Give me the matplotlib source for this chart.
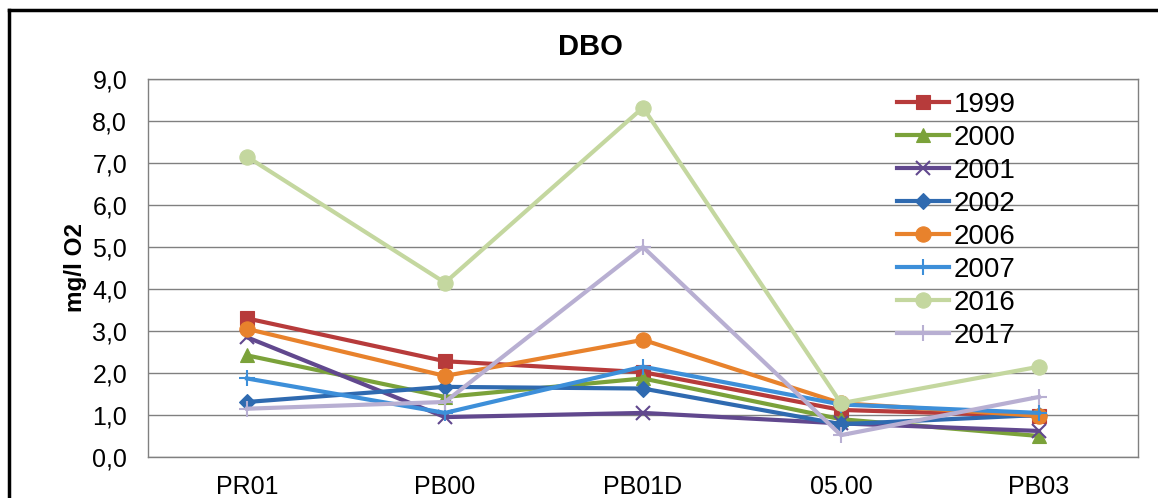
import matplotlib.pyplot as plt
from matplotlib.ticker import FuncFormatter
from matplotlib.lines import Line2D

plt.rcParams['font.family'] = ['Liberation Sans', 'DejaVu Sans']

# stations on the x axis
stations = ["PR01", "PB00", "PB01D", "05.00", "PB03"]

# DBO values (mg/l O2) per year
dbo_1999 = [3.30, 2.28, 2.02, 1.12, 0.98]
dbo_2000 = [2.42, 1.43, 1.87, 0.90, 0.50]
dbo_2001 = [2.85, 0.95, 1.05, 0.80, 0.62]
dbo_2002 = [1.31, 1.67, 1.63, 0.78, 1.00]
dbo_2006 = [3.05, 1.93, 2.79, 1.28, 0.98]
dbo_2007 = [1.87, 1.05, 2.15, 1.25, 1.05]
dbo_2016 = [7.15, 4.15, 8.32, 1.28, 2.15]
dbo_2017 = [1.15, 1.31, 5.00, 0.52, 1.43]

years = ["1999", "2000", "2001", "2002", "2006", "2007", "2016", "2017"]
series = [dbo_1999, dbo_2000, dbo_2001, dbo_2002, dbo_2006, dbo_2007, dbo_2016, dbo_2017]

colors = ["#B73B3B", "#7BA23A", "#61488E", "#2F6AB0", "#E8822C", "#3D8FD9", "#C4D79F", "#B8AFD2"]
markers = ["s", "^", "x", "D", "o", "+", "o", "+"]
msizes = [10, 10, 10, 8, 11, 12, 11, 12]

fig = plt.figure(figsize=(11.58, 4.98), dpi=100)
ax = fig.add_axes([148 / 1158, 1 - 457 / 498, 990 / 1158, 378 / 498])

x = range(len(stations))
for vals, yr, c, m, ms in zip(series, years, colors, markers, msizes):
    ax.plot(x, vals, color=c, lw=3, marker=m, markersize=ms,
            markeredgewidth=1.5 if m in ("x", "+") else 0.8,
            markeredgecolor=c, label=yr)

ax.set_xlim(-0.5, len(stations) - 0.5)
ax.set_ylim(0, 9)
ax.set_yticks(range(0, 10))
ax.yaxis.set_major_formatter(FuncFormatter(lambda v, p: f"{v:.1f}".replace(".", ",")))
ax.set_xticks(list(x))
ax.set_xticklabels(stations)
ax.tick_params(axis="both", length=0, labelsize=18, colors="black")
ax.tick_params(axis="x", pad=13)
ax.tick_params(axis="y", pad=15)
ax.grid(axis="y", color="#808080", lw=1)
ax.set_axisbelow(True)
for s in ax.spines.values():
    s.set_color("#808080")
    s.set_linewidth(1)

ax.set_ylabel("mg/l O2", fontsize=17.5, fontweight="bold", labelpad=4)
fig.text(590 / 1158, 1 - 47 / 498, "DBO", ha="center", va="center",
         fontsize=21, fontweight="bold")

leg = ax.legend(loc="upper left", bbox_to_anchor=(0.745, 0.995), frameon=False,
                fontsize=20, handlelength=1.9, handletextpad=0.15,
                labelspacing=0.25, borderaxespad=0)

# outer chart frame (left and top edges visible)
fig.add_artist(Line2D([9 / 1158, 9 / 1158], [0, 1 - 10 / 498], color="black", lw=2.5,
                      transform=fig.transFigure))
fig.add_artist(Line2D([9 / 1158, 1], [1 - 10 / 498, 1 - 10 / 498], color="black", lw=2.5,
                      transform=fig.transFigure))

fig.savefig("out.png", dpi=100)
